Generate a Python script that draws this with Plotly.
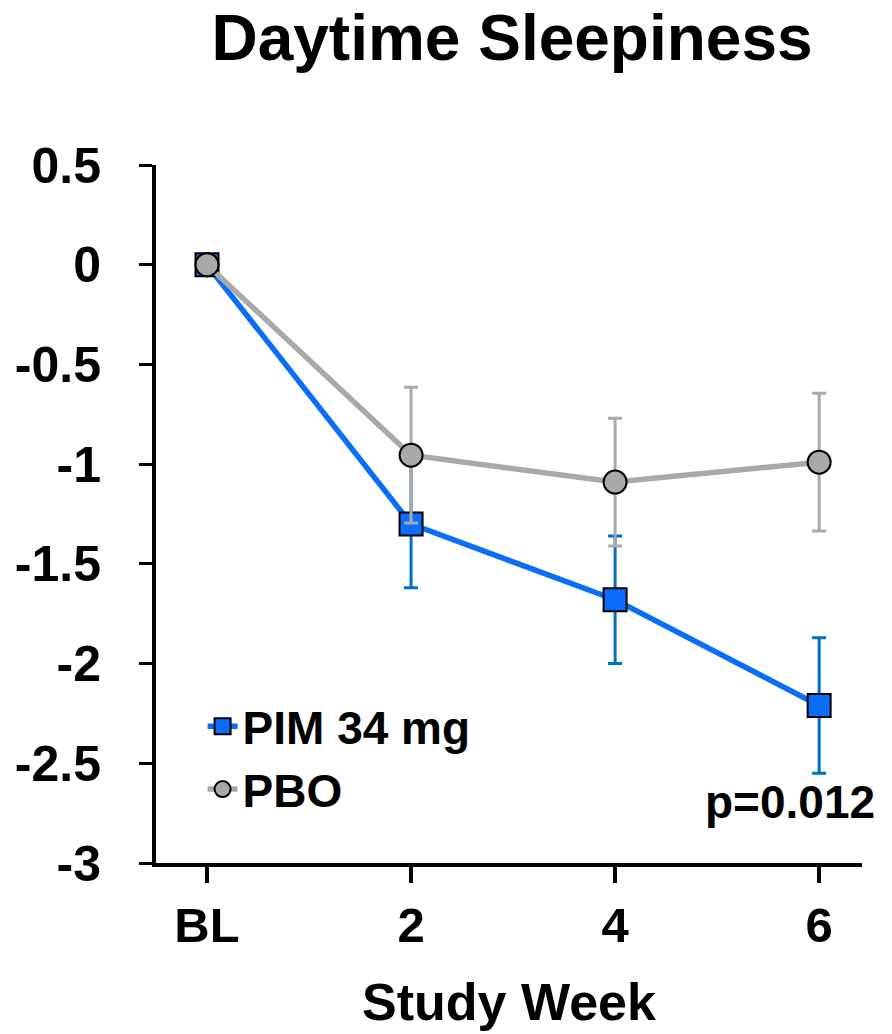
import plotly.graph_objects as go

weeks = ["BL", "2", "4", "6"]
x_pos = [0, 1, 2, 3]
pim_mean = [0.0, -1.30, -1.68, -2.21]
pim_err = [0.0, 0.32, 0.32, 0.34]
pbo_mean = [0.0, -0.955, -1.09, -0.99]
pbo_err = [0.0, 0.34, 0.32, 0.345]
y_ticks = [0.5, 0, -0.5, -1, -1.5, -2, -2.5, -3]
y_tick_text = ["0.5", "0", "-0.5", "-1", "-1.5", "-2", "-2.5", "-3"]

FONT = "Liberation Sans, Arial, sans-serif"

fig = go.Figure()
fig.add_trace(go.Scatter(
    x=x_pos, y=pim_mean, mode="lines+markers", name="PIM 34 mg",
    line=dict(color="#0A6EFA", width=5.5),
    marker=dict(symbol="square", size=23, color="#0A6EFA", line=dict(color="black", width=2)),
    error_y=dict(type="data", array=pim_err, visible=True, color="#0070C0", thickness=3, width=7),
))
fig.add_trace(go.Scatter(
    x=x_pos, y=pbo_mean, mode="lines+markers", name="PBO",
    line=dict(color="#A9A9A9", width=5.5),
    marker=dict(symbol="circle", size=23, color="#A9A9A9", line=dict(color="black", width=2)),
    error_y=dict(type="data", array=pbo_err, visible=True, color="#A9A9A9", thickness=3, width=7),
))

fig.add_annotation(x=1.021, xref="paper", y=-2.695, yref="y", text="<b>p=0.012</b>",
                   showarrow=False, xanchor="right", yanchor="middle",
                   font=dict(family=FONT, size=46, color="black"))

fig.update_layout(
    width=892, height=1034,
    margin=dict(l=156, r=30, t=165, b=169),
    paper_bgcolor="white", plot_bgcolor="white",
    title=dict(text="<b>Daytime Sleepiness</b>", x=0.574, xanchor="center", y=0.964, yanchor="middle",
               font=dict(family=FONT, size=64, color="black")),
    font=dict(family=FONT, color="black"),
    showlegend=True,
    legend=dict(x=0.066, y=0.248, xanchor="left", yanchor="top", bgcolor="rgba(0,0,0,0)",
                font=dict(family=FONT, size=46, color="black", weight="bold"),
                itemwidth=30, tracegroupgap=0),
    xaxis=dict(range=[-0.25, 3.21], tickvals=x_pos, ticktext=weeks, showgrid=False, zeroline=False,
               showline=True, linecolor="black", linewidth=4, ticks="outside", ticklen=16,
               tickwidth=4, tickcolor="black",
               tickfont=dict(family=FONT, size=49, color="black", weight="bold"),
               title=dict(text="<b>Study Week</b>", font=dict(family=FONT, size=52, color="black"), standoff=34)),
    yaxis=dict(range=[-3, 0.5], tickvals=y_ticks, ticktext=y_tick_text, showgrid=False, zeroline=False,
               showline=True, linecolor="black", linewidth=4, ticks="outside", ticklen=13,
               tickwidth=3, tickcolor="black", ticklabelstandoff=28,
               tickfont=dict(family=FONT, size=50, color="black", weight="bold")),
)

fig.write_html("out.html")
